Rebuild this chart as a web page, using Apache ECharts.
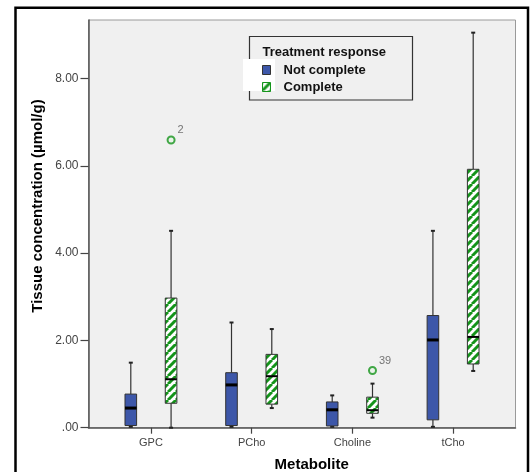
<!DOCTYPE html>
<html><head><meta charset="utf-8">
<script src="https://cdn.jsdelivr.net/npm/echarts@6/dist/echarts.min.js"></script>
<style>html,body{margin:0;padding:0;background:#fff}#c{width:531px;height:472px}</style>
</head><body><div id="c"></div>
<script>
// ---- data ----
var categories = ['GPC', 'PCho', 'Choline', 'tCho'];
var seriesNames = ['Not complete', 'Complete'];
// [min, Q1, median, Q3, max] per category
var notCompleteStats = [
  [0.02, 0.05, 0.45, 0.77, 1.49],
  [0.02, 0.05, 0.98, 1.26, 2.41],
  [0.02, 0.04, 0.41, 0.59, 0.74],
  [0.02, 0.18, 2.01, 2.57, 4.51]
];
var completeStats = [
  [0.00, 0.56, 1.11, 2.97, 4.51],
  [0.45, 0.54, 1.18, 1.68, 2.26],
  [0.23, 0.33, 0.40, 0.70, 1.01],
  [1.30, 1.46, 2.08, 5.92, 9.05]
];
var outlierCategory = [0, 2];
var outlierValues = [6.59, 1.31];
var outlierLabels = ['2', '39'];
var yTicks = [0, 2, 4, 6, 8];
var yTitle = 'Tissue concentration (µmol/g)';
var xTitle = 'Metabolite';
var legendTitle = 'Treatment response';

// ---- styles ----
var FONT = 'Liberation Sans, Arial, sans-serif';
var BLUE = '#3d57a9';
var GREEN = '#14941a';
var OFFSET = 0.2;
var HALF = 5.8;

var pc = document.createElement('canvas');
pc.width = 8; pc.height = 8;
var g = pc.getContext('2d');
g.fillStyle = '#ffffff'; g.fillRect(0, 0, 8, 8);
g.strokeStyle = GREEN; g.lineWidth = 3;
[-8, 0, 8].forEach(function (x0) {
  g.beginPath(); g.moveTo(x0, 8); g.lineTo(x0 + 8, 0); g.stroke();
});
var hatch = { image: pc, repeat: 'repeat' };

function toData(stats) {
  return stats.map(function (s, i) { return [i, s[0], s[1], s[2], s[3], s[4]]; });
}

function makeRender(offset, fill, medW) {
  return function (params, api) {
    var x = api.value(0) + offset;
    var c = function (v) { return api.coord([x, v]); };
    var cx = c(0)[0];
    var yMin = c(api.value(1))[1], yQ1 = c(api.value(2))[1], yMd = c(api.value(3))[1],
        yQ3 = c(api.value(4))[1], yMax = c(api.value(5))[1];
    var ln = { stroke: '#333', lineWidth: 1.2 };
    return {
      type: 'group',
      children: [
        { type: 'line', shape: { x1: cx, y1: yMax, x2: cx, y2: yQ3 }, style: ln },
        { type: 'line', shape: { x1: cx, y1: yQ1, x2: cx, y2: yMin }, style: ln },
        { type: 'line', shape: { x1: cx - 2, y1: yMax, x2: cx + 2, y2: yMax }, style: { stroke: '#222', lineWidth: 2 } },
        { type: 'line', shape: { x1: cx - 2, y1: yMin, x2: cx + 2, y2: yMin }, style: { stroke: '#222', lineWidth: 2 } },
        { type: 'rect', shape: { x: cx - HALF, y: yQ3, width: HALF * 2, height: yQ1 - yQ3 },
          style: { fill: fill, stroke: '#333', lineWidth: 1 } },
        { type: 'line', shape: { x1: cx - HALF, y1: yMd, x2: cx + HALF, y2: yMd }, style: { stroke: '#000', lineWidth: medW } }
      ]
    };
  };
}

var outlierData = outlierCategory.map(function (ci, i) {
  return { value: [ci + OFFSET, outlierValues[i]], name: outlierLabels[i] };
});

var chart = echarts.init(document.getElementById('c'), null, { renderer: 'canvas' });
chart.setOption({
  backgroundColor: '#ffffff',
  animation: false,
  textStyle: { fontFamily: FONT },
  grid: { left: 88.5, right: 15.5, top: 20, bottom: 44.3, show: true,
    backgroundColor: '#f0f0f0', borderColor: '#9a9a9a', borderWidth: 1 },
  xAxis: {
    type: 'value', min: -0.62, max: 3.62,
    splitLine: { show: false },
    axisLine: { show: true, onZero: false, lineStyle: { color: '#555', width: 1.5 } },
    axisTick: { show: true, customValues: [0, 1, 2, 3], length: 6, lineStyle: { color: '#444', width: 1.2 } },
    axisLabel: { customValues: [0, 1, 2, 3], margin: 10, color: '#444', fontSize: 11, fontFamily: FONT,
      formatter: function (v) { return categories[Math.round(v)]; } }
  },
  yAxis: {
    type: 'value', min: 0, max: 9.34,
    splitLine: { show: false },
    axisLine: { show: true, onZero: false, lineStyle: { color: '#555', width: 1.5 } },
    axisTick: { show: true, customValues: yTicks, length: 8, lineStyle: { color: '#444', width: 1.2 } },
    axisLabel: { customValues: yTicks, margin: 10, color: '#444', fontSize: 12, fontFamily: FONT,
      formatter: function (v) { return v === 0 ? '.00' : v.toFixed(2); } }
  },
  legend: {
    left: 262, top: 63, orient: 'vertical', padding: 0,
    itemWidth: 8, itemHeight: 9, itemGap: 3,
    selectedMode: false, z: 20,
    textStyle: { fontSize: 13, fontWeight: 'bold', color: '#111', fontFamily: FONT, lineHeight: 14, padding: [0, 0, 0, 8] },
    data: [
      { name: seriesNames[0], icon: 'rect', itemStyle: { color: BLUE, borderColor: '#333', borderWidth: 1 } },
      { name: seriesNames[1], icon: 'rect', itemStyle: { color: hatch, borderColor: GREEN, borderWidth: 1 } }
    ]
  },
  graphic: [
    { type: 'rect', z: 5, shape: { x: 15.5, y: 7.8, width: 512.5, height: 480 },
      style: { fill: 'none', stroke: '#000', lineWidth: 2.5 } },
    { type: 'rect', z: 9, shape: { x: 249.5, y: 36.5, width: 163, height: 63.5 },
      style: { fill: '#f0f0f0', stroke: '#333', lineWidth: 1.2 } },
    { type: 'rect', z: 10, shape: { x: 243, y: 59, width: 32, height: 32 },
      style: { fill: '#ffffff' } },
    { type: 'text', z: 11, x: 262.5, y: 52.7,
      style: { text: legendTitle, font: 'bold 13px ' + FONT, fill: '#111', textAlign: 'left', textVerticalAlign: 'middle' } },
    { type: 'text', z: 11, x: 311.7, y: 465,
      style: { text: xTitle, font: 'bold 15px ' + FONT, fill: '#000', textAlign: 'center', textVerticalAlign: 'middle' } },
    { type: 'text', z: 11, x: 38, y: 206, rotation: Math.PI / 2,
      style: { text: yTitle, font: 'bold 15px ' + FONT, fill: '#000', textAlign: 'center', textVerticalAlign: 'middle' } }
  ],
  series: [
    { name: seriesNames[0], type: 'custom', renderItem: makeRender(-OFFSET, BLUE, 3),
      itemStyle: { color: BLUE }, encode: { x: 0, y: [1, 2, 3, 4, 5] }, data: toData(notCompleteStats), z: 3 },
    { name: seriesNames[1], type: 'custom', renderItem: makeRender(OFFSET, hatch, 2),
      itemStyle: { color: hatch }, encode: { x: 0, y: [1, 2, 3, 4, 5] }, data: toData(completeStats), z: 3 },
    { name: 'outliers', type: 'scatter', symbol: 'circle', symbolSize: 7, z: 4,
      itemStyle: { color: '#e8f3e8', borderColor: GREEN, borderWidth: 2 },
      label: { show: true, formatter: '{b}', position: 'right', distance: 2, offset: [0, -10],
        color: '#555', fontSize: 11, fontFamily: FONT },
      data: outlierData }
  ]
});
</script></body></html>
